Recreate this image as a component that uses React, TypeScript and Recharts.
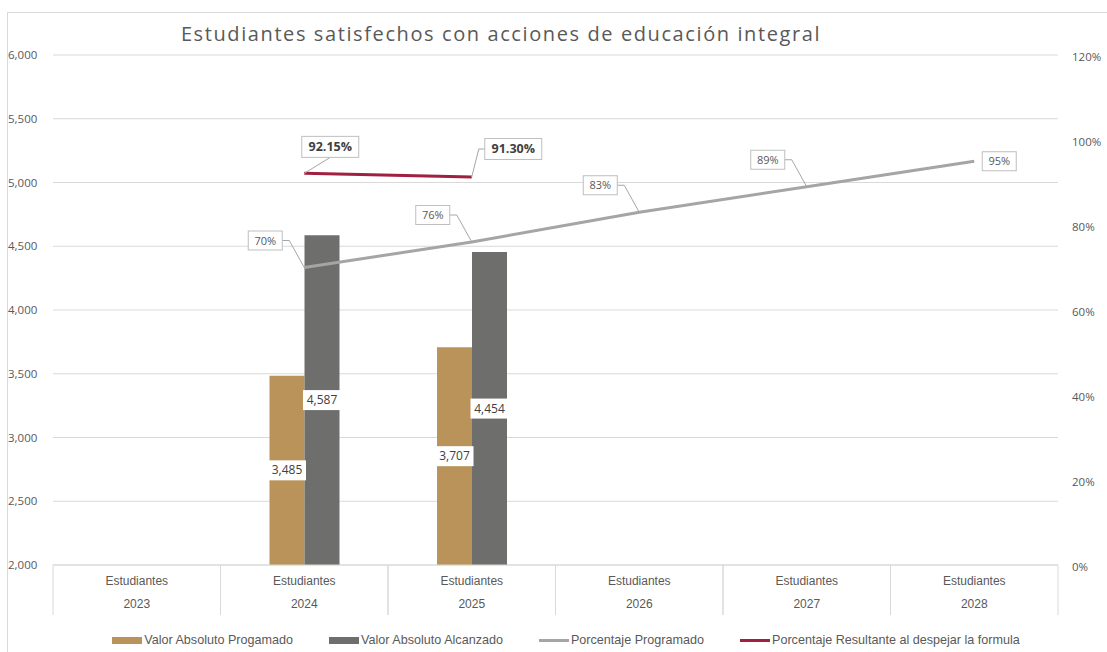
import {
  ComposedChart,
  Bar,
  Line,
  XAxis,
  YAxis,
  CartesianGrid,
  Legend,
  LabelList,
} from 'recharts';

const years = ['2023', '2024', '2025', '2026', '2027', '2028'];
const categoryName = 'Estudiantes';
const valorProgramado = [null, 3485, 3707, null, null, null];
const valorAlcanzado = [null, 4587, 4454, null, null, null];
const porcentajeProgramado = [null, 0.7, 0.76, 0.83, 0.89, 0.95];
const porcentajeResultante = [null, 0.9215, 0.913, null, null, null];
const leftTicks = [2000, 2500, 3000, 3500, 4000, 4500, 5000, 5500, 6000];
const rightTicks = [0, 0.2, 0.4, 0.6, 0.8, 1.0, 1.2];

const data = years.map((year, i) => ({
  year,
  programado: valorProgramado[i],
  alcanzado: valorAlcanzado[i],
  pctProgramado: porcentajeProgramado[i],
  pctResultante: porcentajeResultante[i],
}));

const W = 1107;
const H = 652;
const MARGIN = { top: 55, right: 0, left: 8, bottom: 0 };
const LEFT_AXIS_W = 45;
const RIGHT_AXIS_W = 49;
const BAND = (W - MARGIN.left - MARGIN.right - LEFT_AXIS_W - RIGHT_AXIS_W) / years.length;

const TAN = '#B9935A';
const DARK = '#6E6E6D';
const LINE_GRAY = '#A5A5A5';
const RED = '#A0203F';
const GRID = '#D9D9D9';
const TEXT = '#595959';
const FONT = '"Liberation Sans", Arial, sans-serif';
const AXIS_FONT = '"Open Sans", sans-serif';

const fmtNum = (v: number) => v.toLocaleString('en-US');

function LeftTick({ y, payload }: any) {
  return (
    <text x={8} y={y} dy={4} fill={TEXT} fontSize={11.5} fontFamily={AXIS_FONT} textAnchor="start">
      {fmtNum(payload.value)}
    </text>
  );
}

function RightTick({ y, payload }: any) {
  return (
    <text x={1072} y={y + 2} dy={4} fill={TEXT} fontSize={11.5} fontFamily={AXIS_FONT} textAnchor="start">
      {Math.round(payload.value * 100)}%
    </text>
  );
}

function CategoryTick({ x, y, payload }: any) {
  const half = BAND / 2;
  return (
    <g>
      <line x1={x - half} x2={x - half} y1={y} y2={y + 50} stroke={GRID} />
      <line x1={x + half} x2={x + half} y1={y} y2={y + 50} stroke={GRID} />
      <text x={x} y={y + 20} fill={TEXT} fontSize={12} fontFamily={FONT} textAnchor="middle">
        {categoryName}
      </text>
      <text x={x} y={y + 43} fill={TEXT} fontSize={12} fontFamily={FONT} textAnchor="middle">
        {payload.value}
      </text>
    </g>
  );
}

function BarValueLabel({ x, y, width, height, value }: any) {
  if (value == null) return null;
  const cx = x + width / 2;
  const cy = y + height / 2;
  return (
    <g>
      <rect x={cx - 19} y={cy - 10} width={38} height={20} fill="#fff" />
      <text x={cx} y={cy + 4} textAnchor="middle" fill="#404040" fontSize={12} fontFamily={AXIS_FONT}>
        {fmtNum(value)}
      </text>
    </g>
  );
}

function ProgramadoLabel({ x, y, value, index }: any) {
  if (value == null) return null;
  const text = `${Math.round(value * 100)}%`;
  const bw = 34;
  const bh = 19;
  if (index === years.length - 1) {
    const bx = x + 8;
    return (
      <g>
        <rect x={bx} y={y - bh / 2} width={bw} height={bh} fill="#fff" stroke="#BFBFBF" />
        <text x={bx + bw / 2} y={y + 4} textAnchor="middle" fill={TEXT} fontSize={11} fontFamily={AXIS_FONT}>
          {text}
        </text>
      </g>
    );
  }
  const right = x - 22;
  const cy = y - 27;
  return (
    <g>
      <polyline
        points={`${right},${cy} ${right + 7},${cy} ${x},${y}`}
        fill="none"
        stroke="#A6A6A6"
      />
      <rect x={right - bw} y={cy - bh / 2} width={bw} height={bh} fill="#fff" stroke="#BFBFBF" />
      <text x={right - bw / 2} y={cy + 4} textAnchor="middle" fill={TEXT} fontSize={11} fontFamily={AXIS_FONT}>
        {text}
      </text>
    </g>
  );
}

function ResultanteLabel({ x, y, value, index }: any) {
  if (value == null) return null;
  const text = `${(value * 100).toFixed(2)}%`;
  const bw = 57;
  const bh = 21;
  if (index === 1) {
    const cx = x + 26;
    const bottom = y - 16;
    return (
      <g>
        <line x1={cx} y1={bottom} x2={x} y2={y} stroke="#A6A6A6" />
        <rect x={cx - bw / 2} y={bottom - bh} width={bw} height={bh} fill="#fff" stroke="#BFBFBF" />
        <text x={cx} y={bottom - bh / 2 + 4.5} textAnchor="middle" fill="#404040" fontSize={12.5} fontWeight="bold" fontFamily={AXIS_FONT}>
          {text}
        </text>
      </g>
    );
  }
  const left = x + 13;
  const cy = y - 28;
  return (
    <g>
      <polyline points={`${left},${cy} ${left - 6},${cy} ${x},${y}`} fill="none" stroke="#A6A6A6" />
      <rect x={left} y={cy - bh / 2} width={bw} height={bh} fill="#fff" stroke="#BFBFBF" />
      <text x={left + bw / 2} y={cy + 4.5} textAnchor="middle" fill="#404040" fontSize={12.5} fontWeight="bold" fontFamily={AXIS_FONT}>
        {text}
      </text>
    </g>
  );
}

const legendItems = [
  { label: 'Valor Absoluto Progamado', color: TAN, kind: 'bar' },
  { label: 'Valor Absoluto Alcanzado', color: DARK, kind: 'bar' },
  { label: 'Porcentaje Programado', color: LINE_GRAY, kind: 'line' },
  { label: 'Porcentaje Resultante al despejar la formula', color: RED, kind: 'line' },
];

function LegendContent() {
  return (
    <div
      style={{
        height: 37,
        display: 'flex',
        justifyContent: 'center',
        alignItems: 'flex-end',
        gap: 36,
        paddingLeft: 17,
        boxSizing: 'border-box',
        paddingBottom: 5,
        fontFamily: FONT,
        fontSize: 12.6,
        color: TEXT,
      }}
    >
      {legendItems.map((it) => (
        <div key={it.label} style={{ display: 'flex', alignItems: 'center', gap: 2 }}>
          <span
            style={{
              display: 'inline-block',
              width: 30,
              height: it.kind === 'bar' ? 7 : 3,
              background: it.color,
            }}
          />
          <span>{it.label}</span>
        </div>
      ))}
    </div>
  );
}

export default function App() {
  return (
    <div style={{ position: 'absolute', left: 0, top: 0, width: W, height: H, background: '#fff' }}>
      <div
        style={{
          position: 'absolute',
          left: 7,
          top: 12,
          width: W,
          height: H,
          borderTop: `1px solid ${GRID}`,
          borderLeft: `1px solid ${GRID}`,
        }}
      />
      <div
        style={{
          position: 'absolute',
          top: 20,
          left: 0,
          width: 1002,
          textAlign: 'center',
          fontFamily: AXIS_FONT,
          fontSize: 20,
          color: TEXT,
          letterSpacing: 1.6,
        }}
      >
        Estudiantes satisfechos con acciones de educación integral
      </div>
      <ComposedChart width={W} height={H} data={data} margin={MARGIN} barGap={0} barSize={35}>
        <CartesianGrid yAxisId="left" vertical={false} stroke={GRID} />
        <XAxis
          dataKey="year"
          height={50}
          tickLine={false}
          tickSize={0}
          tickMargin={0}
          axisLine={{ stroke: GRID }}
          tick={<CategoryTick />}
          interval={0}
        />
        <YAxis
          yAxisId="left"
          width={LEFT_AXIS_W}
          domain={[2000, 6000]}
          ticks={leftTicks}
          axisLine={false}
          tickLine={false}
          tick={<LeftTick />}
        />
        <YAxis
          yAxisId="right"
          orientation="right"
          width={RIGHT_AXIS_W}
          domain={[0, 1.2]}
          ticks={rightTicks}
          axisLine={false}
          tickLine={false}
          tick={<RightTick />}
        />
        <Legend verticalAlign="bottom" content={<LegendContent />} />
        <Bar yAxisId="left" dataKey="programado" fill={TAN} isAnimationActive={false}>
          <LabelList dataKey="programado" content={<BarValueLabel />} />
        </Bar>
        <Bar yAxisId="left" dataKey="alcanzado" fill={DARK} isAnimationActive={false}>
          <LabelList dataKey="alcanzado" content={<BarValueLabel />} />
        </Bar>
        <Line
          yAxisId="right"
          dataKey="pctProgramado"
          stroke={LINE_GRAY}
          strokeWidth={3}
          dot={false}
          activeDot={false}
          isAnimationActive={false}
        >
          <LabelList dataKey="pctProgramado" content={<ProgramadoLabel />} />
        </Line>
        <Line
          yAxisId="right"
          dataKey="pctResultante"
          stroke={RED}
          strokeWidth={3}
          dot={false}
          activeDot={false}
          isAnimationActive={false}
        >
          <LabelList dataKey="pctResultante" content={<ResultanteLabel />} />
        </Line>
      </ComposedChart>
    </div>
  );
}
